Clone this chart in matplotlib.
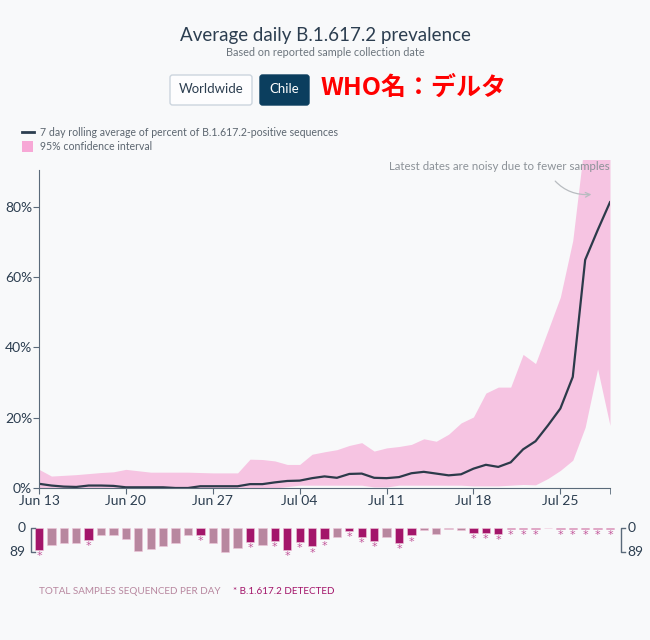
import matplotlib.pyplot as plt
from matplotlib.patches import FancyBboxPatch, Rectangle
from matplotlib.lines import Line2D

# dates (Jun 13 - Jul 29)
tick_days = [0, 7, 14, 21, 28, 35, 42]
tick_labels = ['Jun 13', 'Jun 20', 'Jun 27', 'Jul 04', 'Jul 11', 'Jul 18', 'Jul 25']

# 7 day rolling average (%)
avg = [1.2, 0.7, 0.4, 0.3, 0.7, 0.7, 0.6, 0.2, 0.2, 0.2, 0.2, 0.0, 0.0, 0.5, 0.5, 0.5,
       0.5, 1.1, 1.1, 1.6, 2.0, 2.1, 2.8, 3.3, 2.9, 4.0, 4.1, 2.9, 2.8, 3.1, 4.2, 4.6,
       4.1, 3.6, 3.9, 5.5, 6.6, 6.0, 7.3, 11.0, 13.3, 17.8, 22.6, 31.6, 64.9, 73.3, 81.3]
ci_upper = [5.3, 3.4, 3.6, 3.8, 4.1, 4.4, 4.6, 5.3, 4.9, 4.5, 4.5, 4.5, 4.5, 4.4, 4.3, 4.3,
            4.3, 8.2, 8.1, 7.7, 6.7, 6.7, 9.6, 10.3, 10.9, 12.1, 12.9, 10.5, 11.4, 11.8, 12.4, 14.0,
            13.3, 15.3, 18.5, 20.2, 27.0, 28.7, 28.7, 38.0, 35.4, 44.8, 54.3, 70.4, 100, 100, 100]
ci_lower = [0, 0, 0, 0, 0, 0, 0, 0, 0, 0, 0, 0, 0, 0, 0, 0,
            0, 0, 0, 0, 0.4, 0.8, 0.8, 0.8, 0.8, 0.8, 0.8, 0.3, 0.3, 0.8, 0.8, 0.8,
            0.8, 0.8, 0.8, 0.6, 0.6, 0.6, 0.8, 1.0, 0.9, 2.7, 5.0, 7.9, 17.3, 33.9, 17.8]

# total samples sequenced per day and whether B.1.617.2 was detected
samples = [83, 64, 57, 58, 45, 28, 27, 42, 86, 80, 66, 55, 28, 25, 55, 89,
           74, 52, 65, 48, 81, 53, 69, 42, 32, 10, 32, 47, 32, 56, 27, 6,
           24, 2, 9, 19, 18, 22, 3, 2, 2, 0, 2, 2, 2, 2, 2]
detected = [1, 0, 0, 0, 1, 0, 0, 0, 0, 0, 0, 0, 0, 1, 0, 0,
            0, 1, 0, 1, 1, 1, 1, 1, 0, 1, 1, 1, 0, 1, 1, 0,
            0, 0, 0, 1, 1, 1, 1, 1, 1, 0, 1, 1, 1, 1, 1]

days = list(range(len(avg)))

bg = '#f8f9fa'
W, H = 650, 640


def fx(px):
    return px / W


def fy(py):
    return 1 - py / H


plt.rcParams['font.family'] = ['Lato', 'DejaVu Sans']

fig = plt.figure(figsize=(6.5, 6.4), dpi=100, facecolor=bg)

# titles
fig.text(0.5, fy(35), 'Average daily B.1.617.2 prevalence', ha='center', va='center',
         fontsize=13.5, color='#2c3e50')
fig.text(0.5, fy(53), 'Based on reported sample collection date', ha='center', va='center',
         fontsize=7.8, color='#6c757d')

# buttons
fig.patches.append(FancyBboxPatch((fx(170), fy(105)), fx(82), 30 / H, boxstyle='round,pad=0,rounding_size=0.004',
                                  transform=fig.transFigure, facecolor='#fdfdfe', edgecolor='#ccd5de', lw=1))
fig.text(fx(211), fy(89), 'Worldwide', ha='center', va='center', fontsize=9.5, color='#2c3e50')
fig.patches.append(FancyBboxPatch((fx(260), fy(105)), fx(49), 30 / H, boxstyle='round,pad=0,rounding_size=0.004',
                                  transform=fig.transFigure, facecolor='#0b3e5e', edgecolor='#0b3e5e', lw=1))
fig.text(fx(284.5), fy(89), 'Chile', ha='center', va='center', fontsize=9.5, color='white')
fig.text(fx(321), fy(88), 'WHO名：デルタ', ha='left', va='center', fontsize=18, color='#ff0000',
         fontweight='bold', family=['Noto Sans CJK JP', 'DejaVu Sans'])

# legend
fig.lines.append(Line2D([fx(22), fx(34)], [fy(132), fy(132)], transform=fig.transFigure, color='#2c3e50', lw=2))
fig.text(fx(40), fy(132), '7 day rolling average of percent of B.1.617.2-positive sequences',
         va='center', fontsize=7.6, color='#5c6670')
fig.patches.append(Rectangle((fx(22), fy(152)), fx(11), 11 / H, transform=fig.transFigure,
                             facecolor='#f7a8d6', edgecolor='none'))
fig.text(fx(40), fy(147), '95% confidence interval', va='center', fontsize=7.6, color='#5c6670')

# main chart
ax = fig.add_axes([fx(39), fy(488), fx(571), (488 - 160) / H])
ax.set_facecolor(bg)
ax.fill_between(days, ci_lower, ci_upper, color='#f6c4e2', lw=0)
ax.plot(days, avg, color='#2c3a4a', lw=1.6)
ax.set_xlim(0, 46)
ax.set_ylim(0, 93.3)
for s in ['top', 'right']:
    ax.spines[s].set_visible(False)
ax.spines['left'].set_bounds(0, 90.5)
for s in ['left', 'bottom']:
    ax.spines[s].set_color('#5a6a7a')
ax.set_yticks([0, 20, 40, 60, 80])
ax.set_yticklabels(['0%', '20%', '40%', '60%', '80%'])
ax.set_xticks(tick_days)
ax.set_xticklabels(tick_labels)
ax.set_xticks([46], minor=True)
ax.tick_params(axis='both', which='both', length=4, color='#5a6a7a', labelcolor='#2c3e50', labelsize=10, pad=1)

ax.annotate('Latest dates are noisy due to fewer samples', xy=(44.5, 83.5), xytext=(46, 91.5),
            ha='right', va='center', fontsize=8.3, color='#8c9298', annotation_clip=False,
            arrowprops=dict(arrowstyle='->', color='#b8bcc0', lw=0.9,
                            connectionstyle='arc3,rad=0.3', shrinkA=6, shrinkB=0,
                            relpos=(0.72, 0)))

# samples per day bars
ax2 = fig.add_axes([fx(39), fy(565), fx(571), (565 - 524) / H])
ax2.set_facecolor(bg)
ax2.set_xlim(0, 46)
ax2.set_ylim(139, -15)
ax2.axis('off')
colors = ['#a3156a' if d else '#b8879f' for d in detected]
ax2.bar(days, samples, width=0.67, bottom=0, color=colors, edgecolor='#f0c6da', lw=0.4, clip_on=False)
for d, n, det in zip(days, samples, detected):
    if det:
        ax2.text(d, n + 24, '*', ha='center', va='center', fontsize=8, color='#c2569a',
                 family='DejaVu Sans', clip_on=False)

# brackets for 0 / 89
for xb, xt, xl, ha in [(-0.64, -0.32, -1.1, 'right'), (46.85, 47.17, 47.4, 'left')]:
    ax2.plot([xt, xb, xb, xt], [0, 0, 89, 89], color='#5a6a7a', lw=1, clip_on=False)
    ax2.text(xl, 0, '0', ha=ha, va='center', fontsize=10, color='#2c3e50')
    ax2.text(xl, 89, '89', ha=ha, va='center', fontsize=10, color='#2c3e50')

# footer
fig.text(fx(39), fy(591), 'TOTAL SAMPLES SEQUENCED PER DAY', va='center', fontsize=7.1, color='#b8879f')
fig.text(fx(233), fy(591), '* B.1.617.2 DETECTED', va='center', fontsize=7.1, color='#a3156a')

fig.savefig('out.png', dpi=100, facecolor=bg)
